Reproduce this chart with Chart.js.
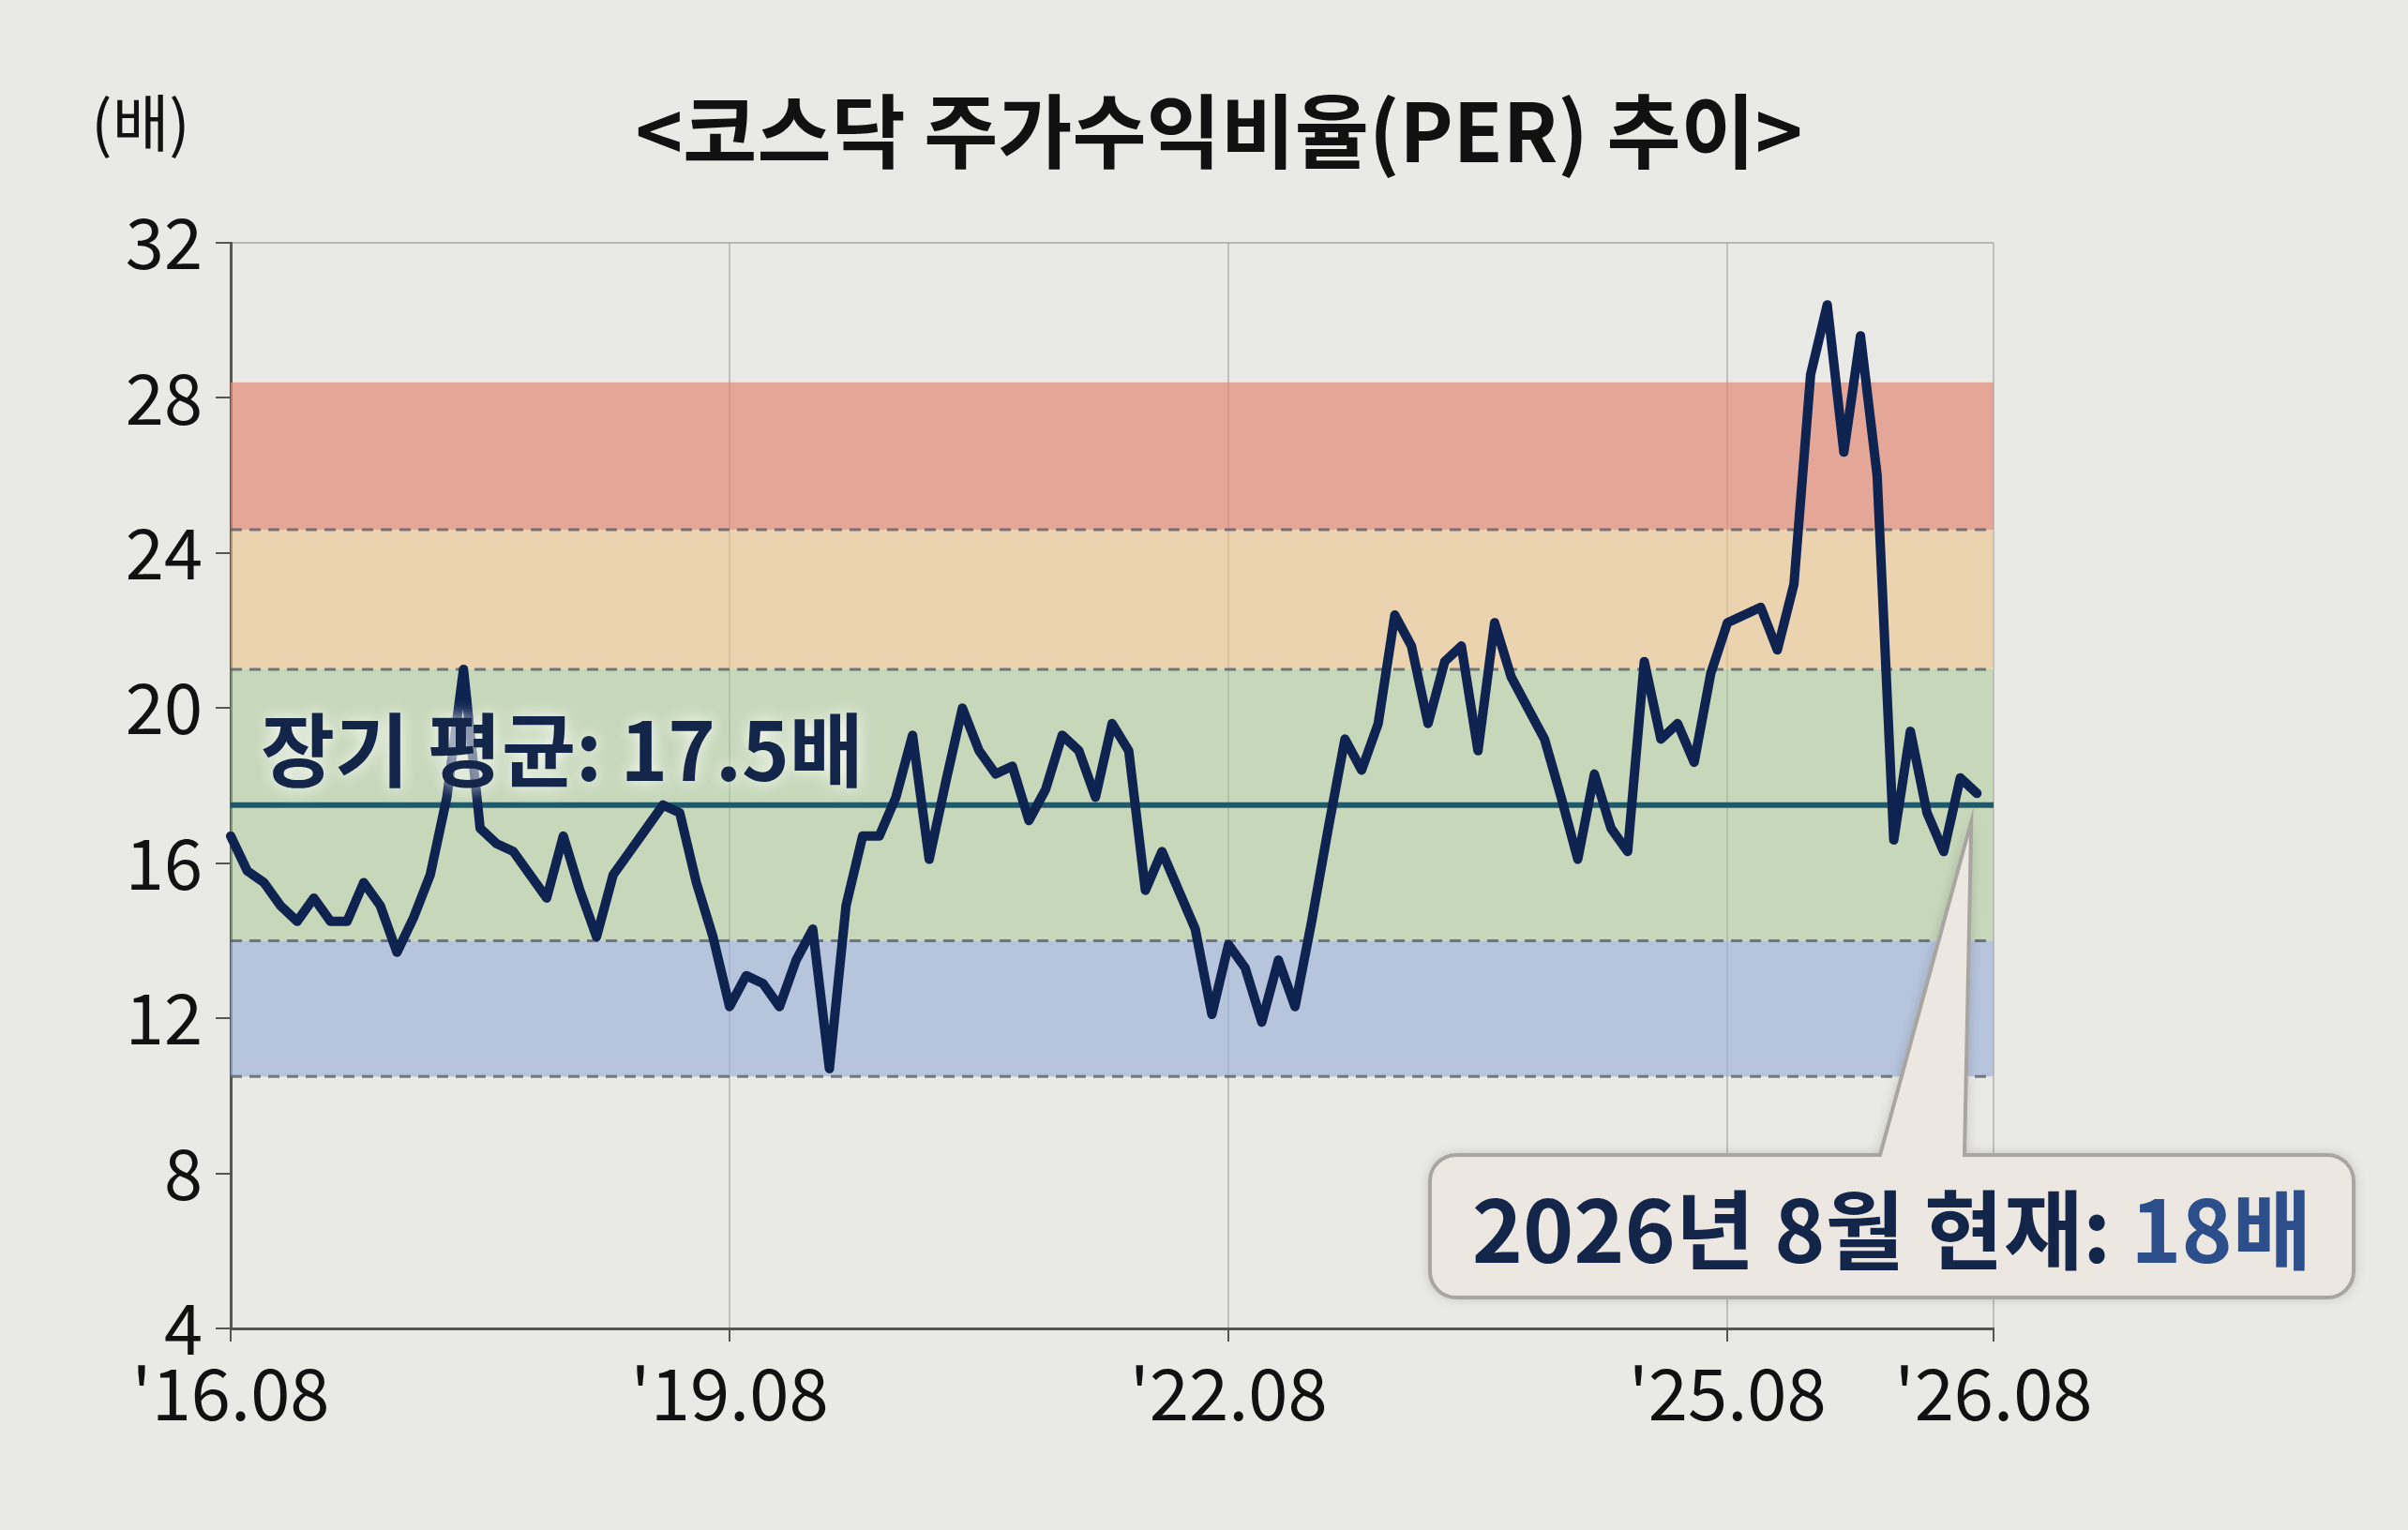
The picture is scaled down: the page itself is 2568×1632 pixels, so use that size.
<!DOCTYPE html>
<html>
<head>
<meta charset="utf-8">
<script src="https://cdn.jsdelivr.net/npm/chart.js@4/dist/chart.umd.min.js"></script>
<style>
  html, body { margin: 0; padding: 0; background: #e9e9e6; }
  #wrap { width: 2568px; height: 1632px; }
</style>
</head>
<body>
<div id="wrap"><canvas id="perChart" width="2568" height="1632"></canvas></div>
<script>
// Monthly-ish KOSDAQ PER readings
const perValues = [
  16.7, 15.8, 15.5, 14.9, 14.5, 15.1, 14.5, 14.5, 15.5, 14.9,
  13.7, 14.6, 15.7, 17.7, 21.0, 16.9, 16.5, 16.3, 15.7, 15.1,
  16.7, 15.3, 14.1, 15.7, 16.3, 16.9, 17.5, 17.3, 15.5, 14.1,
  12.3, 13.1, 12.9, 12.3, 13.5, 14.3, 10.7, 14.9, 16.7, 16.7,
  17.7, 19.3, 16.1, 18.1, 20.0, 18.9, 18.3, 18.5, 17.1, 17.9,
  19.3, 18.9, 17.7, 19.6, 18.9, 15.3, 16.3, 15.3, 14.3, 12.1,
  13.9, 13.3, 11.9, 13.5, 12.3, 14.5, 16.9, 19.2, 18.4, 19.6,
  22.4, 21.6, 19.6, 21.2, 21.6, 18.9, 22.2, 20.8, 20.0, 19.2,
  17.7, 16.1, 18.3, 16.9, 16.3, 21.2, 19.2, 19.6, 18.6, 20.9,
  22.2, 22.4, 22.6, 21.5, 23.2, 28.6, 30.4, 26.6, 29.6, 26.0,
  16.6, 19.4, 17.3, 16.3, 18.2, 17.8
];
// axis tick labels at point index
const tickLabels = { 0: "'16.08", 30: "'19.08", 60: "'22.08", 90: "'25.08", 106: "'26.08" };
const pointCount = 107;
const yTicks = [4, 8, 12, 16, 20, 24, 28, 32];
// valuation bands (low, high, colour)
const bands = [
  [24.6, 28.4, 'rgba(226,140,120,0.72)'],
  [21.0, 24.6, 'rgba(236,196,140,0.6)'],
  [14.0, 21.0, 'rgba(170,200,150,0.55)'],
  [10.5, 14.0, 'rgba(160,180,215,0.7)']
];
const dashedLevels = [24.6, 21.0, 14.0, 10.5];
const longTermAvg = 17.5;
const currentValue = 18;

const labels = Array.from({ length: pointCount }, (_, i) => tickLabels[i] || '');
const data = labels.map((_, i) => i < perValues.length ? perValues[i] : null);
const FONT = "'Noto Sans CJK KR', 'Noto Sans', sans-serif";

const decorPlugin = {
  id: 'decor',
  beforeDatasetsDraw(chart) {
    const { ctx, chartArea: a, scales: { y } } = chart;
    ctx.save();
    bands.forEach(([lo, hi, c]) => {
      ctx.fillStyle = c;
      ctx.fillRect(a.left, y.getPixelForValue(hi), a.right - a.left, y.getPixelForValue(lo) - y.getPixelForValue(hi));
    });
    ctx.strokeStyle = 'rgba(90,95,105,0.8)';
    ctx.lineWidth = 3;
    ctx.setLineDash([12, 8]);
    dashedLevels.forEach(v => {
      const py = y.getPixelForValue(v);
      ctx.beginPath(); ctx.moveTo(a.left, py); ctx.lineTo(a.right, py); ctx.stroke();
    });
    ctx.setLineDash([]);
    ctx.strokeStyle = '#1f5a6a';
    ctx.lineWidth = 6;
    const my = y.getPixelForValue(longTermAvg);
    ctx.beginPath(); ctx.moveTo(a.left, my); ctx.lineTo(a.right, my); ctx.stroke();
    ctx.restore();
  },
  afterDatasetsDraw(chart) {
    const { ctx, scales: { x, y } } = chart;
    ctx.save();
    // title
    ctx.fillStyle = '#111';
    ctx.textAlign = 'center';
    ctx.textBaseline = 'middle';
    ctx.font = `bold 86px ${FONT}`;
    ctx.fillText('<코스닥 주가수익비율(PER) 추이>', 1300, 140);
    ctx.font = `66px ${FONT}`;
    ctx.fillText('(배)', 150, 131);

    // average label
    ctx.textAlign = 'left';
    ctx.font = `bold 86px ${FONT}`;
    ctx.shadowColor = 'rgba(255,255,255,0.95)';
    ctx.shadowBlur = 18;
    ctx.fillStyle = '#14254a';
    ctx.fillText('장기 평균: 17.5배', 278, 800);
    ctx.shadowBlur = 0;

    // callout
    const last = perValues.length - 1;
    const tipX = x.getPixelForValue(last) - 6, tipY = y.getPixelForValue(perValues[last]) + 30;
    const bx = 1525, by = 1232, bw = 985, bh = 152;
    ctx.fillStyle = '#ece7e1';
    ctx.strokeStyle = '#a9a6a2';
    ctx.lineWidth = 4;
    ctx.shadowColor = 'rgba(0,0,0,0.2)';
    ctx.shadowBlur = 14;
    ctx.beginPath();
    ctx.moveTo(bx + 28, by);
    ctx.lineTo(2005, by);
    ctx.lineTo(tipX, tipY);
    ctx.lineTo(2095, by);
    ctx.arcTo(bx + bw, by, bx + bw, by + bh, 28);
    ctx.arcTo(bx + bw, by + bh, bx, by + bh, 28);
    ctx.arcTo(bx, by + bh, bx, by, 28);
    ctx.arcTo(bx, by, bx + bw, by, 28);
    ctx.closePath();
    ctx.fill();
    ctx.shadowBlur = 0;
    ctx.stroke();
    ctx.font = `bold 92px ${FONT}`;
    ctx.textBaseline = 'middle';
    const t1 = '2026년 8월 현재: ';
    const w1 = ctx.measureText(t1).width;
    const t2 = currentValue + '배';
    const w2 = ctx.measureText(t2).width;
    const sx = bx + (bw - w1 - w2) / 2;
    ctx.fillStyle = '#14254a';
    ctx.fillText(t1, sx, by + bh / 2 + 4);
    ctx.fillStyle = '#2c4f8c';
    ctx.fillText(t2, sx + w1, by + bh / 2 + 4);
    ctx.restore();
  }
};

new Chart(document.getElementById('perChart').getContext('2d'), {
  type: 'line',
  data: {
    labels: labels,
    datasets: [{
      data: data,
      borderColor: '#0f2350',
      borderWidth: 10,
      pointRadius: 0,
      tension: 0,
      borderJoinStyle: 'round',
      borderCapStyle: 'round',
      spanGaps: false
    }]
  },
  options: {
    responsive: false,
    animation: false,
    layout: { padding: { top: 259, right: 442, left: 0, bottom: 0 } },
    plugins: { legend: { display: false }, tooltip: { enabled: false } },
    scales: {
      x: {
        type: 'category',
        offset: false,
        afterFit: s => { s.height = 215; },
        border: { color: '#555', width: 3 },
        grid: {
          color: c => tickLabels[c.index] !== undefined ? 'rgba(150,150,150,0.5)' : 'transparent',
          lineWidth: 2,
          tickLength: 14,
          tickColor: c => tickLabels[c.index] !== undefined ? '#555' : 'transparent'
        },
        ticks: {
          autoSkip: false,
          maxRotation: 0,
          color: '#111',
          font: { size: 76, family: FONT },
          padding: 10,
          callback: (v, i) => tickLabels[i] || ''
        }
      },
      y: {
        min: 4, max: 32,
        afterFit: s => { s.width = 246; },
        afterBuildTicks: s => { s.ticks = yTicks.map(v => ({ value: v })); },
        border: { color: '#555', width: 3 },
        grid: {
          color: c => c.tick && c.tick.value === 32 ? 'rgba(150,150,150,0.6)' : 'transparent',
          lineWidth: 2,
          tickLength: 16,
          tickColor: '#555'
        },
        ticks: {
          color: '#111',
          font: { size: 74, family: FONT },
          padding: 14
        }
      }
    }
  },
  plugins: [decorPlugin]
});
</script>
</body>
</html>
